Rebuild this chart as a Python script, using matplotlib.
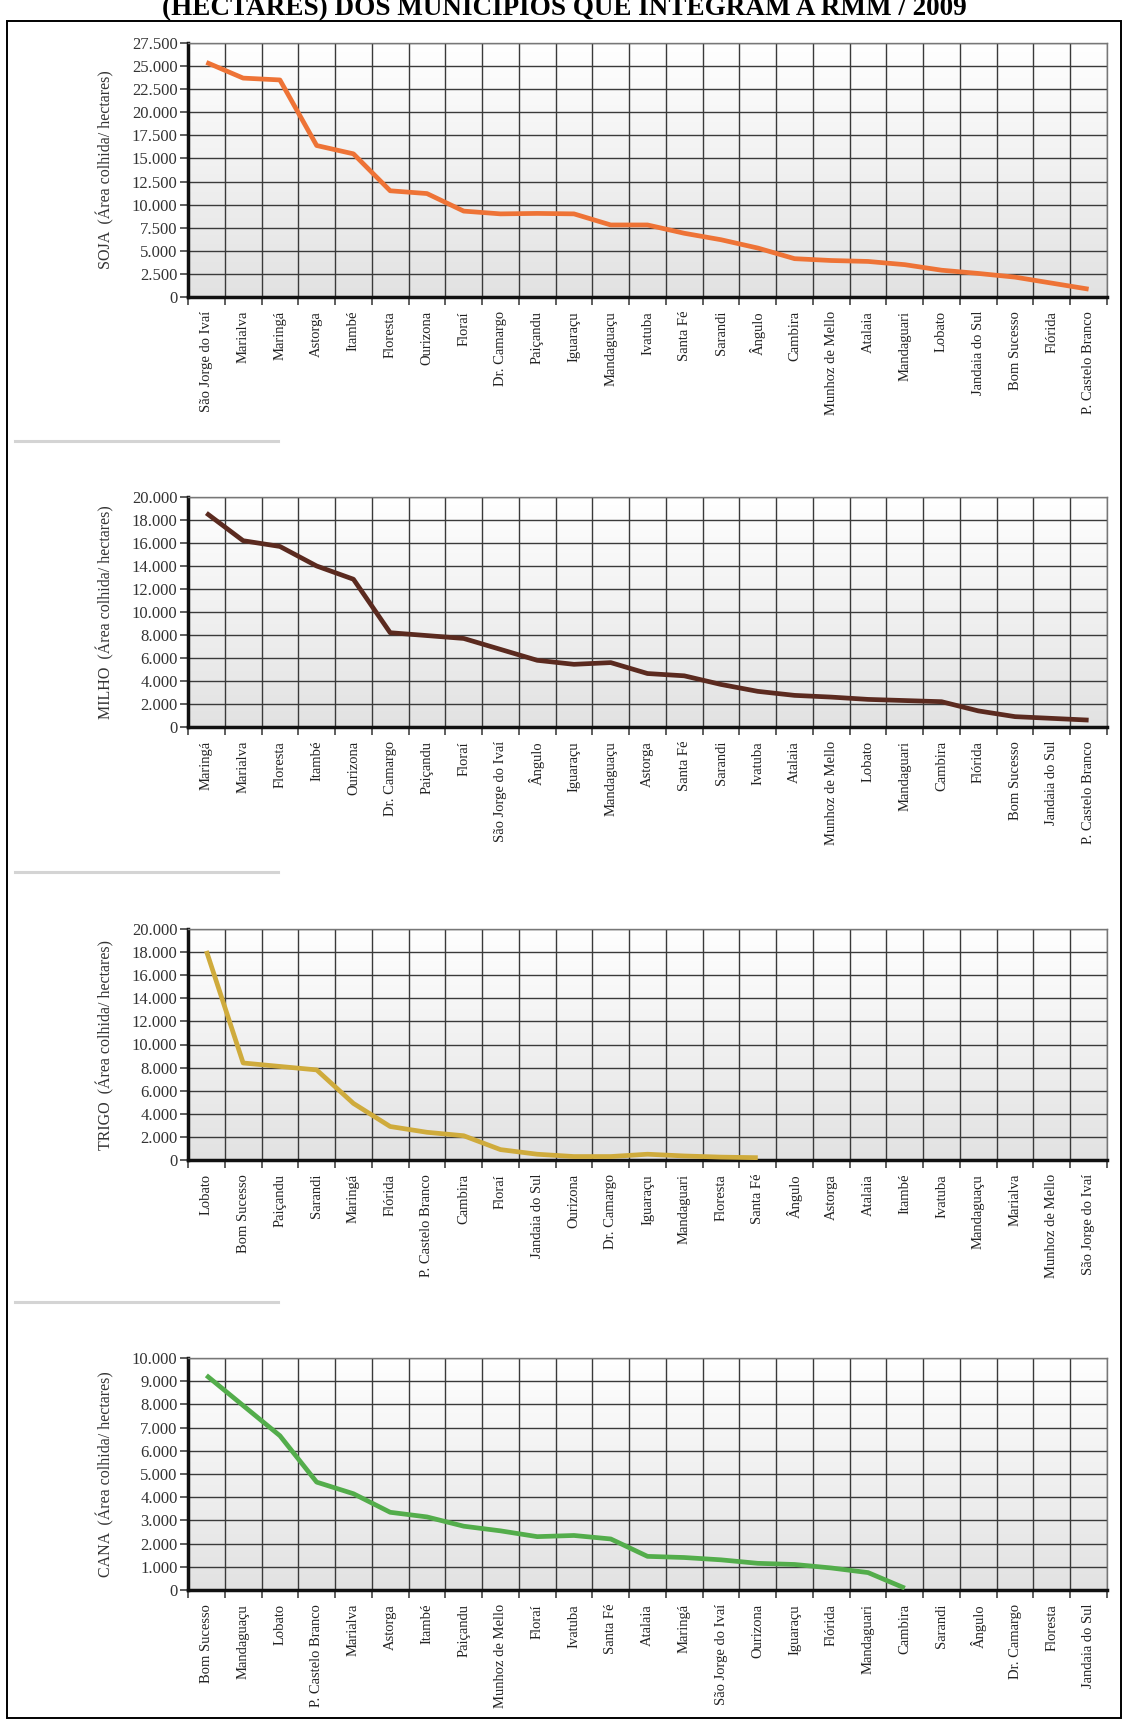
import numpy as np
import matplotlib.pyplot as plt
from matplotlib.colors import LinearSegmentedColormap
from matplotlib.patches import Rectangle
from matplotlib.lines import Line2D
from matplotlib.ticker import FuncFormatter

plt.rcParams['font.family'] = ['Liberation Serif', 'DejaVu Serif']

nan = np.nan

# data (area colhida, hectares)
soja_mun = ['São Jorge do Ivaí', 'Marialva', 'Maringá', 'Astorga', 'Itambé', 'Floresta',
            'Ourizona', 'Floraí', 'Dr. Camargo', 'Paiçandu', 'Iguaraçu', 'Mandaguaçu',
            'Ivatuba', 'Santa Fé', 'Sarandi', 'Ângulo', 'Cambira', 'Munhoz de Mello',
            'Atalaia', 'Mandaguari', 'Lobato', 'Jandaia do Sul', 'Bom Sucesso', 'Flórida',
            'P. Castelo Branco']
soja_val = [25400, 23700, 23500, 16400, 15500, 11500, 11200, 9300, 9000, 9050, 9000, 7800,
            7800, 6900, 6200, 5300, 4150, 3950, 3850, 3500, 2900, 2550, 2150, 1500, 850]

milho_mun = ['Maringá', 'Marialva', 'Floresta', 'Itambé', 'Ourizona', 'Dr. Camargo',
             'Paiçandu', 'Floraí', 'São Jorge do Ivaí', 'Ângulo', 'Iguaraçu', 'Mandaguaçu',
             'Astorga', 'Santa Fé', 'Sarandi', 'Ivatuba', 'Atalaia', 'Munhoz de Mello',
             'Lobato', 'Mandaguari', 'Cambira', 'Flórida', 'Bom Sucesso', 'Jandaia do Sul',
             'P. Castelo Branco']
milho_val = [18600, 16200, 15700, 14000, 12850, 8200, 7950, 7700, 6750, 5800, 5450, 5600,
             4650, 4450, 3700, 3100, 2750, 2600, 2400, 2300, 2200, 1400, 900, 750, 600]

trigo_mun = ['Lobato', 'Bom Sucesso', 'Paiçandu', 'Sarandi', 'Maringá', 'Flórida',
             'P. Castelo Branco', 'Cambira', 'Floraí', 'Jandaia do Sul', 'Ourizona',
             'Dr. Camargo', 'Iguaraçu', 'Mandaguari', 'Floresta', 'Santa Fé', 'Ângulo',
             'Astorga', 'Atalaia', 'Itambé', 'Ivatuba', 'Mandaguaçu', 'Marialva',
             'Munhoz de Mello', 'São Jorge do Ivaí']
trigo_val = [18100, 8400, 8100, 7800, 4900, 2900, 2400, 2100, 900, 500, 300, 300, 500, 350,
             250, 200, nan, nan, nan, nan, nan, nan, nan, nan, nan]

cana_mun = ['Bom Sucesso', 'Mandaguaçu', 'Lobato', 'P. Castelo Branco', 'Marialva', 'Astorga',
            'Itambé', 'Paiçandu', 'Munhoz de Mello', 'Floraí', 'Ivatuba', 'Santa Fé',
            'Atalaia', 'Maringá', 'São Jorge do Ivaí', 'Ourizona', 'Iguaraçu', 'Flórida',
            'Mandaguari', 'Cambira', 'Sarandi', 'Ângulo', 'Dr. Camargo', 'Floresta',
            'Jandaia do Sul']
cana_val = [9250, 7950, 6650, 4650, 4150, 3350, 3150, 2750, 2550, 2300, 2350, 2200, 1450,
            1400, 1300, 1150, 1100, 950, 750, 80, nan, nan, nan, nan, nan]

W, H = 1129, 1720
fig = plt.figure(figsize=(W / 100, H / 100), dpi=100)
fig.patch.set_facecolor('white')

# page frame and title (title sits at the very top edge, as in the scan)
fig.add_artist(Rectangle((7 / W, 1 - 1718 / H), (1121 - 7) / W, (1718 - 21) / H,
                         transform=fig.transFigure, fill=False, ec='black', lw=1.4))
fig.text(0.5, 1 - 15 / H, '(HECTARES) DOS MUNICÍPIOS QUE INTEGRAM A RMM / 2009',
         ha='center', va='baseline', fontsize=19.5, fontweight='bold')

# light separators between panels
for ysep in [441, 872, 1302]:
    fig.add_artist(Line2D([15 / W, 278 / W], [1 - ysep / H] * 2, transform=fig.transFigure,
                          color='#d4d4d4', lw=2.2))

bg = LinearSegmentedColormap.from_list('bg', ['#e2e2e2', '#ffffff'])
fmt = FuncFormatter(lambda v, p: f'{int(v):,}'.replace(',', '.'))

panels = [
    (soja_mun, soja_val, '#ee7336', 'SOJA  (Área colhida/ hectares)', 27500, 2500, 43, 297),
    (milho_mun, milho_val, '#5b2a1f', 'MILHO  (Área colhida/ hectares)', 20000, 2000, 497, 727),
    (trigo_mun, trigo_val, '#cfab3c', 'TRIGO  (Área colhida/ hectares)', 20000, 2000, 929, 1160),
    (cana_mun, cana_val, '#53ad4b', 'CANA  (Área colhida/ hectares)', 10000, 1000, 1358, 1590),
]

left, right = 188, 1107
for mun, val, col, ylab, ymax, step, top, bot in panels:
    ax = fig.add_axes([left / W, 1 - bot / H, (right - left) / W, (bot - top) / H])
    n = len(mun)
    x = np.arange(n) + 0.5
    ax.imshow(np.linspace(0, 1, 256).reshape(-1, 1), cmap=bg, origin='lower',
              extent=[0, n, 0, ymax], aspect='auto', zorder=0)
    ax.plot(x, val, color=col, lw=3.4, solid_capstyle='butt', zorder=3)
    ax.set_xlim(0, n)
    ax.set_ylim(0, ymax)

    ax.set_yticks(np.arange(0, ymax + 1, step))
    ax.yaxis.set_major_formatter(fmt)
    ax.set_xticks(x)
    ax.set_xticklabels(mun, rotation=90, fontsize=10.5, color='#222222')
    ax.set_xticks(np.arange(n + 1), minor=True)
    ax.tick_params(axis='x', which='major', length=0, pad=10)
    ax.tick_params(axis='x', which='minor', length=5.5, width=1.1, color='#333333')
    ax.tick_params(axis='y', length=5.5, width=1.1, color='#333333', pad=2, labelsize=12,
                   labelcolor='#333333')

    ax.grid(which='minor', axis='x', color='#3a3a3a', lw=1.0)
    ax.grid(which='major', axis='y', color='#3a3a3a', lw=1.0)
    ax.grid(which='major', axis='x', visible=False)

    for s in ['left', 'bottom']:
        ax.spines[s].set_linewidth(2.5)
        ax.spines[s].set_color('#111111')
    for s in ['top', 'right']:
        ax.spines[s].set_linewidth(1.0)
        ax.spines[s].set_color('#777777')

    ax.set_ylabel(ylab, fontsize=11.5, color='#333333')
    ax.yaxis.set_label_coords(-74 / (right - left), 0.5)

fig.savefig('out.png', dpi=100)
